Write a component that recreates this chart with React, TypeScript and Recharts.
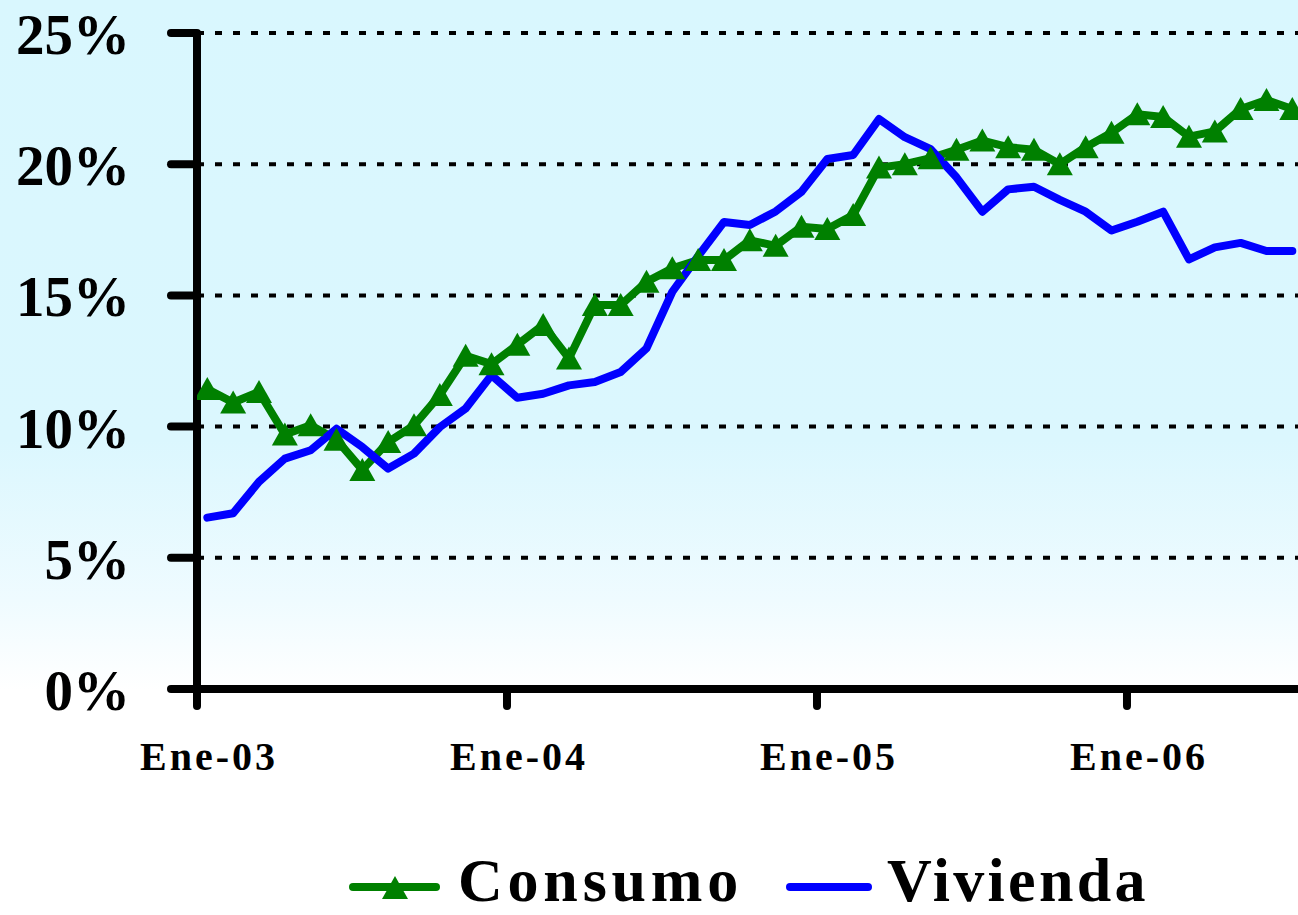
import React from 'react';
import { LineChart, Line, XAxis, YAxis, CartesianGrid, Legend } from 'recharts';

// Month index 0 = Ene-03
const consumo = [11.43, 10.92, 11.32, 9.7, 10.05, 9.5, 8.35, 9.41, 10.05, 11.2, 12.7, 12.38, 13.12, 13.87, 12.6, 14.63, 14.63, 15.52, 16.03, 16.35, 16.35, 17.1, 16.89, 17.62, 17.53, 18.06, 19.87, 20.0, 20.23, 20.55, 20.9, 20.65, 20.55, 20.0, 20.65, 21.2, 21.9, 21.8, 21.05, 21.25, 22.1, 22.45, 22.1];
const vivienda = [6.53, 6.7, 7.9, 8.78, 9.1, 9.92, 9.22, 8.4, 8.97, 9.98, 10.69, 11.96, 11.1, 11.25, 11.57, 11.7, 12.08, 12.98, 15.14, 16.5, 17.8, 17.68, 18.2, 18.95, 20.2, 20.35, 21.72, 21.03, 20.57, 19.5, 18.19, 19.04, 19.14, 18.64, 18.19, 17.47, 17.81, 18.19, 16.37, 16.83, 17.0, 16.69, 16.69];
const xTickValues = [0, 12, 24, 36];
const xTickLabels = ['Ene-03', 'Ene-04', 'Ene-05', 'Ene-06'];
const yTicks = [0, 5, 10, 15, 20, 25];
const seriesNames = ['Consumo', 'Vivienda'];
// observations are dated within the month (about 0.4 month after the 1st)
const POINT_OFFSET = 0.4;

const data = consumo.map((c, i) => ({ t: i + POINT_OFFSET, consumo: c, vivienda: vivienda[i] }));

const GREEN = '#008000';
const BLUE = '#0000ff';
const FONT = '"Liberation Serif", "Times New Roman", serif';

const Triangle = (props: any) => {
  const { cx, cy } = props;
  if (cx == null || cy == null) return null;
  return <polygon points={`${cx},${cy - 12} ${cx - 13},${cy + 11} ${cx + 13},${cy + 11}`} fill={GREEN} stroke="none" />;
};

const YTick = (props: any) => {
  const { y, payload } = props;
  return (
    <text x={130} y={y + 21} textAnchor="end" fontFamily={FONT} fontWeight="bold" fontSize={57} fill="#000">
      {payload.value}%
    </text>
  );
};

const XTick = (props: any) => {
  const { x, payload } = props;
  const idx = xTickValues.indexOf(payload.value);
  return (
    <text x={x + 12} y={770} textAnchor="middle" fontFamily={FONT} fontWeight="bold" fontSize={40} letterSpacing={3} fill="#000">
      {xTickLabels[idx]}
    </text>
  );
};

const LegendContent = () => (
  <svg width={1298} height={65} style={{ display: 'block', overflow: 'visible' }}>
    <line x1={353} y1={37} x2={436} y2={37} stroke={GREEN} strokeWidth={8} strokeLinecap="round" />
    <polygon points={`395,26 382,49 408,49`} fill={GREEN} />
    <text x={458} y={51} fontFamily={FONT} fontWeight="bold" fontSize={62} letterSpacing={4.8} fill="#000">{seriesNames[0]}</text>
    <line x1={790} y1={37} x2={868} y2={37} stroke={BLUE} strokeWidth={8} strokeLinecap="round" />
    <text x={887} y={51} fontFamily={FONT} fontWeight="bold" fontSize={62} letterSpacing={3.3} fill="#000">{seriesNames[1]}</text>
  </svg>
);

export default function App() {
  return (
    <div
      style={{
        position: 'absolute',
        left: 0,
        top: 0,
        width: 1298,
        height: 915,
        overflow: 'hidden',
        background: 'linear-gradient(to bottom, #d9f7fe 0px, #dbf7fe 440px, #effbff 600px, #ffffff 690px, #ffffff 915px)',
      }}
    >
      <LineChart width={1298} height={915} data={data} margin={{ top: 33, right: 0, left: 0, bottom: 61 }}>
        <CartesianGrid horizontal vertical={false} stroke="#000" strokeWidth={4} strokeDasharray="7 11" />
        <XAxis
          dataKey="t"
          type="number"
          domain={[0, 42.62]}
          ticks={xTickValues}
          allowDataOverflow
          axisLine={{ stroke: '#000', strokeWidth: 8, strokeLinecap: 'round' }}
          tickLine={{ stroke: '#000', strokeWidth: 8, strokeLinecap: 'round' }}
          tickSize={17}
          height={100}
          tick={<XTick />}
          interval={0}
        />
        <YAxis
          type="number"
          domain={[0, 25]}
          ticks={yTicks}
          width={197}
          axisLine={{ stroke: '#000', strokeWidth: 8 }}
          tickLine={{ stroke: '#000', strokeWidth: 8, strokeLinecap: 'round' }}
          tickSize={26}
          tick={<YTick />}
          interval={0}
        />
        <Legend content={<LegendContent />} verticalAlign="bottom" wrapperStyle={{ position: 'absolute', left: 0, top: 850, width: 1298, height: 65 }} />
        <Line
          dataKey="consumo"
          name={seriesNames[0]}
          stroke={GREEN}
          strokeWidth={8}
          strokeLinejoin="round"
          dot={<Triangle />}
          activeDot={false}
          isAnimationActive={false}
        />
        <Line
          dataKey="vivienda"
          name={seriesNames[1]}
          stroke={BLUE}
          strokeWidth={8}
          strokeLinejoin="round"
          strokeLinecap="round"
          dot={false}
          activeDot={false}
          isAnimationActive={false}
        />
      </LineChart>
    </div>
  );
}
